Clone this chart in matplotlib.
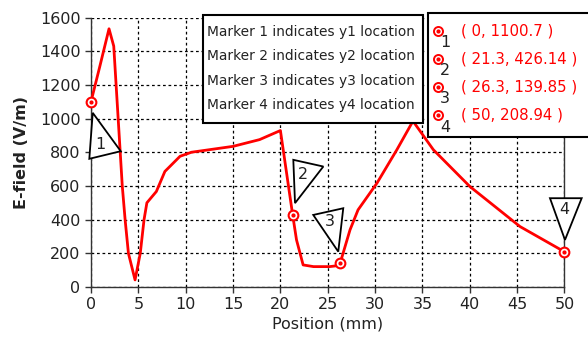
"""E-field along position with four marker callouts."""
import matplotlib
matplotlib.use("Agg")
import matplotlib.pyplot as plt
import matplotlib.transforms as mtransforms
from matplotlib.patches import Polygon, Rectangle

# --- data ---
position_mm = [0, 0.9, 1.9, 2.4, 3.3, 3.6, 3.95, 4.65, 5.2, 5.6, 5.9, 6.9, 7.8, 9.4,
               10.6, 15.0, 17.8, 20.0, 21.3, 21.7, 22.4, 23.5, 25.2, 25.8, 26.3,
               27.35, 28.2, 30.2, 32.3, 34.0, 36.15, 40.0, 45.3, 50]
efield_vm = [1100.7, 1303, 1533, 1430, 600, 400, 200, 42, 200, 400, 500, 567, 686, 776,
             800, 835, 875, 929, 426.14, 280, 131, 121, 121, 125, 139.85,
             339, 458, 617, 815, 985, 815, 597, 359, 208.94]
marker_x = [0, 21.3, 26.3, 50]
marker_y = [1100.7, 426.14, 139.85, 208.94]
marker_ids = ["1", "2", "3", "4"]

# callout triangles: vertex offsets (px) from each marker, plus label offset
tri_offsets = [
    [(1.7, -11.2), (-1.7, -57.2), (29.7, -49.6)],
    [(0.6, 55.4), (30.6, 48.7), (2.3, 12.1)],
    [(-26.8, 48.5), (3.2, 55.2), (-1.8, 11.8)],
    [(-14.5, 53.6), (17.2, 53.6), (0.5, 11.9)],
]
label_offsets = [(9, -43), (10.6, 40.4), (-10, 41.8), (0, 42)]

TEXT = "#222222"
RED = "#ff0000"

fig = plt.figure(figsize=(5.88, 3.5), dpi=100)
ax = fig.add_axes([0.1548, 0.18, 0.960 - 0.1548, 0.95 - 0.18])

ax.plot(position_mm, efield_vm, color=RED, lw=2.0, zorder=3, solid_joinstyle="round")
ax.plot(marker_x, marker_y, ls="none", marker="o", ms=7, mfc="white", mec=RED,
        mew=1.5, zorder=4, clip_on=False)
ax.plot(marker_x, marker_y, ls="none", marker="o", ms=2, mfc=RED, mec=RED,
        zorder=5, clip_on=False)

ax.set_xlim(0, 50)
ax.set_ylim(0, 1600)
ax.set_xticks(range(0, 51, 5))
ax.set_yticks(range(0, 1601, 200))
ax.grid(True, color="black", ls=(0, (2.2, 2.2)), lw=0.9)
ax.tick_params(direction="out", length=4, width=1, colors="#333333",
               labelcolor=TEXT, labelsize=11.5, pad=3.5)
for side in ("left", "bottom", "right"):
    ax.spines[side].set_color("#333333")
    ax.spines[side].set_linewidth(1)
ax.spines["top"].set_visible(False)
ax.set_xlabel("Position (mm)", fontsize=11.5, color=TEXT, labelpad=3)
ax.set_ylabel("E-field (V/m)", fontsize=11.5, color=TEXT, fontweight="bold", labelpad=8)

# callout triangles anchored on the marker points
for mx, my, tri, lab, mid in zip(marker_x, marker_y, tri_offsets, label_offsets, marker_ids):
    anchor = mtransforms.ScaledTranslation(mx, my, ax.transData)
    trans = mtransforms.Affine2D() + anchor
    ax.add_patch(Polygon(tri, closed=True, fc="white", ec="black", lw=1.3,
                         transform=trans, zorder=6, clip_on=False))
    ax.text(lab[0], lab[1], mid, transform=trans, ha="center", va="center",
            fontsize=11.5, color=TEXT, zorder=7, clip_on=False)

W, H = 588.0, 350.0

# box 1: description of markers
fig.add_artist(Rectangle((202.7 / W, 1 - 122.7 / H), 220 / W, 107.7 / H,
                         transform=fig.transFigure, fc="white", ec="black", lw=1.5, zorder=10))
for i, mid in enumerate(marker_ids):
    fig.text(207 / W, 1 - (31.7 + 24.4 * i) / H,
             f"Marker {mid} indicates y{mid} location",
             ha="left", va="center", fontsize=9.9, color=TEXT, zorder=11)

# box 2: marker coordinates
fig.add_artist(Rectangle((428.3 / W, 1 - 136.7 / H), 200 / W, 124 / H,
                         transform=fig.transFigure, fc="white", ec="black", lw=1.5,
                         zorder=10, clip_on=False))
for i, (mx, my, mid) in enumerate(zip(marker_x, marker_y, marker_ids)):
    yy = 1 - (30.7 + 28.1 * i) / H
    fig.add_artist(plt.Line2D([438.3 / W], [yy], ls="none", marker="o", ms=6.5,
                              mfc="white", mec=RED, mew=1.4,
                              transform=fig.transFigure, zorder=11))
    fig.add_artist(plt.Line2D([438.3 / W], [yy], ls="none", marker="o", ms=2,
                              mfc=RED, mec=RED, transform=fig.transFigure, zorder=12))
    fig.text(445 / W, yy - 12 / H, mid, ha="center", va="center",
             fontsize=11.5, color=TEXT, zorder=11)
    fig.text(461 / W, yy, f"( {mx:g}, {my:g} )", ha="left", va="center",
             fontsize=10.8, color=RED, zorder=11)

fig.savefig("out.png", dpi=100)
plt.close(fig)
